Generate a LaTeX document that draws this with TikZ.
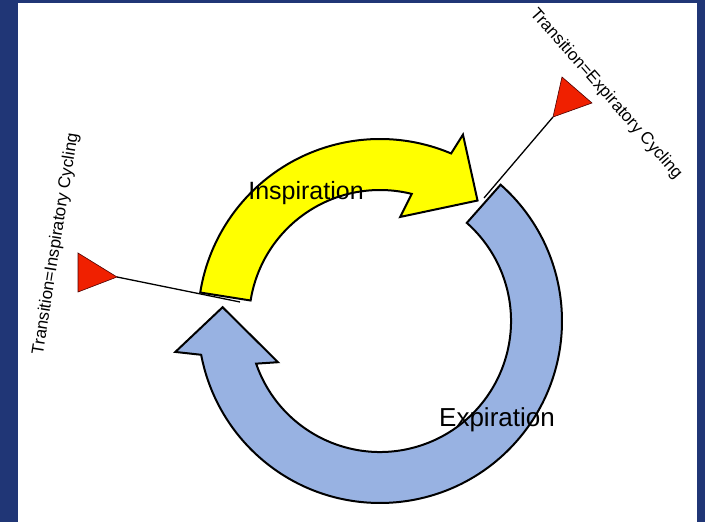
\documentclass[tikz,border=0pt]{standalone}
\usepackage{fontspec}
\setmainfont{Liberation Sans}
\definecolor{bgblue}{RGB}{32,54,118}
\definecolor{arrowyellow}{RGB}{255,255,0}
\definecolor{arrowblue}{RGB}{152,178,226}
\definecolor{flagred}{RGB}{240,32,0}
\tikzset{
  arrowshape/.style={draw=black, line width=2pt, line join=miter},
  flag/.style={draw=black!70!red, line width=0.6pt, fill=flagred},
  link/.style={draw=black, line width=1.3pt},
  biglabel/.style={inner sep=0pt, anchor=base, text=black},
  sidelabel/.style={inner sep=0pt, text=black, font=\fontsize{17}{20}\selectfont}
}
\begin{document}
\begin{tikzpicture}[x=1pt,y=1pt]
\useasboundingbox (0,0) rectangle (705,522);
\fill[bgblue] (0,0) rectangle (705,522);
\fill[white] (18,0) rectangle (697,519);
% arrows around center
\begin{scope}[shift={(380,201)}]
  \draw[arrowshape, fill=arrowblue]
    (48.5:182) arc[start angle=48.5, end angle=-169.3, radius=182]
    -- (-171.4:207) -- (-185:158) -- (-158:110) -- (-161:131)
    arc[start angle=-161, end angle=48.5, radius=131] -- cycle;
  \draw[arrowshape, fill=arrowyellow]
    (171:182) arc[start angle=171, end angle=67, radius=182]
    -- (66:204) -- (51:155) -- (79:106) -- (76:131)
    arc[start angle=76, end angle=171, radius=131] -- cycle;
\end{scope}
% flags
\coordinate (ltip) at (117,245);
\coordinate (lend) at (240,220);
\coordinate (rtip) at (553,405);
\coordinate (rend) at (484,324);
\draw[flag] (78,269) -- (78,230) -- (ltip) -- cycle;
\draw[flag] (562,445) -- (592,419) -- (rtip) -- cycle;
\draw[link] (ltip) -- (lend);
\draw[link] (rtip) -- (rend);
% labels
\node[biglabel, font=\fontsize{25}{30}\selectfont] (insp) at (306,322) {Inspiration};
\node[biglabel, font=\fontsize{26}{31}\selectfont] (exp) at (497,95) {Expiration};
\node[sidelabel, rotate=81] (ltext) at (56,278) {Transition=Inspiratory Cycling};
\node[sidelabel, rotate=-48.6] (rtext) at (606,428) {Transition=Expiratory Cycling};
\end{tikzpicture}
\end{document}
